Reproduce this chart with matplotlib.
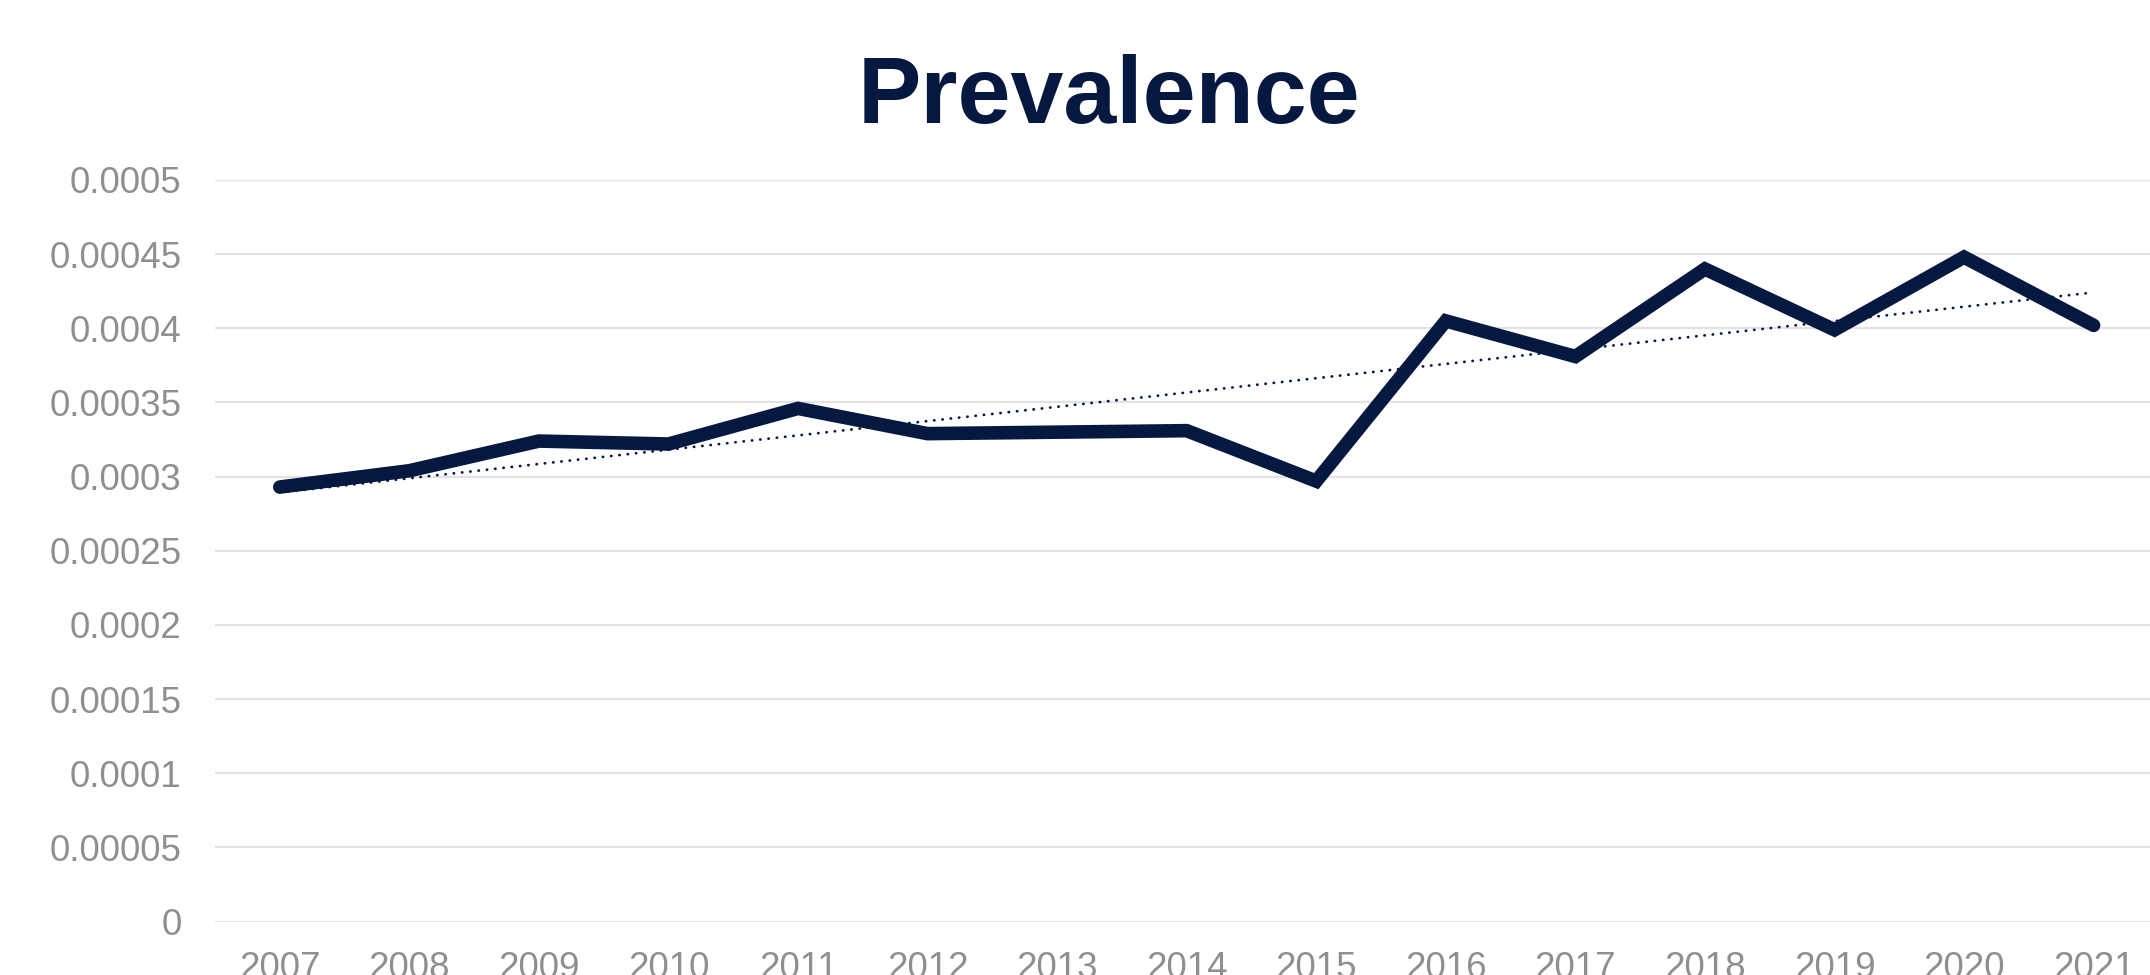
import matplotlib
matplotlib.use("Agg")
import matplotlib.pyplot as plt
import numpy as np

# %% Data

years = ["2007", "2008", "2009", "2010", "2011", "2012", "2013", "2014",
         "2015", "2016", "2017", "2018", "2019", "2020", "2021"]
prevalence = [0.000293, 0.000304, 0.000324, 0.000322, 0.000346, 0.000329,
              0.000330, 0.000331, 0.000297, 0.000405, 0.000381, 0.000440,
              0.000399, 0.000448, 0.000402]
y_ticks = [0, 0.00005, 0.0001, 0.00015, 0.0002, 0.00025, 0.0003,
           0.00035, 0.0004, 0.00045, 0.0005]
y_tick_labels = ["0", "0.00005", "0.0001", "0.00015", "0.0002", "0.00025",
                 "0.0003", "0.00035", "0.0004", "0.00045", "0.0005"]

NAVY = "#051840"
GREY_TEXT = "#8f8f8f"
GRID = "#e3e3e3"

plt.rcParams["font.family"] = ["Liberation Sans", "DejaVu Sans"]

# %% Plot

fig = plt.figure(figsize=(21.5, 9.75), dpi=100)
ax = fig.add_axes([0.1, 0.0547, 0.9039, 0.7607])

x = np.arange(len(years))
ax.plot(x, prevalence, color=NAVY, linewidth=9.8,
        solid_capstyle="round", solid_joinstyle="miter", zorder=3)

# linear trendline (like Excel's)
slope, intercept = np.polyfit(x, prevalence, 1)
ax.plot(x, slope * x + intercept, color=NAVY, linewidth=2.0,
        linestyle=(0, (0.1, 2.9)), dash_capstyle="round", zorder=4)

ax.set_xlim(-0.5, len(years) - 0.5)
ax.set_ylim(0, 0.0005)
ax.set_yticks(y_ticks)
ax.set_yticklabels(y_tick_labels)
ax.set_xticks(x)
ax.set_xticklabels(years)

ax.grid(axis="y", color=GRID, linewidth=1.6, zorder=0)
ax.set_axisbelow(True)
for side in ["top", "right", "left", "bottom"]:
    ax.spines[side].set_visible(False)

ax.tick_params(axis="y", length=0, pad=24, labelsize=26.5, labelcolor=GREY_TEXT)
ax.tick_params(axis="x", length=0, pad=21, labelsize=26.5, labelcolor=GREY_TEXT)

fig.text(0.516, 0.874, "Prevalence", ha="center", va="baseline",
         fontsize=68.5, fontweight="bold", color=NAVY)

fig.savefig("out.png", dpi=100)
